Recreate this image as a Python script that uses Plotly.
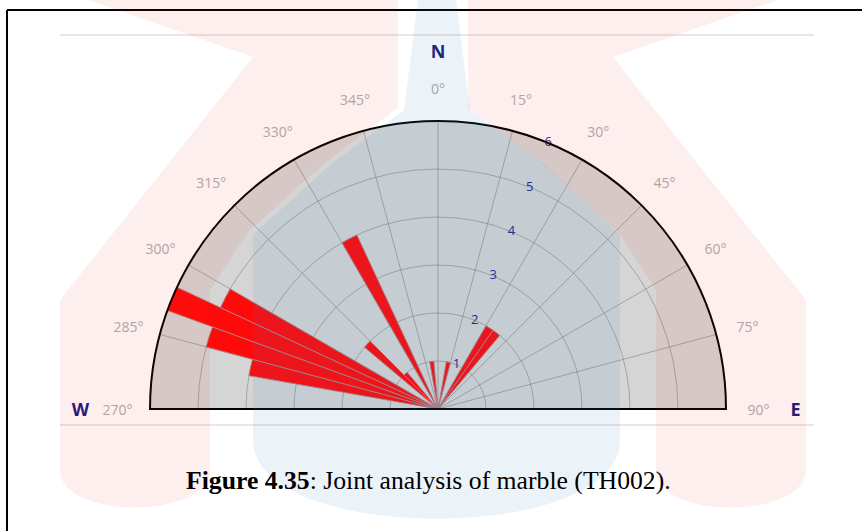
import plotly.graph_objects as go

# ---------------- data ----------------
bin_start = [280, 285, 290, 295, 310, 315, 330, 350, 10, 30, 35]
joint_count = [4, 5, 6, 5, 2, 1, 4, 1, 1, 2, 2]
bin_width = 5
angle_ticks = [270, 285, 300, 315, 330, 345, 0, 15, 30, 45, 60, 75, 90]
angle_labels = ["{}°".format(a) for a in angle_ticks]
radial_ticks = [1, 2, 3, 4, 5, 6]
radial_labels = [str(v) for v in radial_ticks]
radial_max = 6
compass_text = ["N", "W", "E"]
compass_theta = [0, 270, 90]
caption = "<b>Figure 4.35</b>: Joint analysis of marble (TH002)."

W, H = 862, 531
CX, CY, R = 438, 409, 288          # pixel frame of the rose
LABEL_R = 6.677                    # radius (data units) of angle labels
COMPASS_R = 7.45                   # radius (data units) of N / W / E
OUTER_MAX = 7.5                    # range of the transparent label overlay
TEXT_DY = 2                        # small downward nudge of the label overlay


def px(x):
    return x / W


def py(y):
    return 1 - y / H


def path(points):
    s = "M {:.4f},{:.4f}".format(px(points[0][0]), py(points[0][1]))
    for p in points[1:]:
        if len(p) == 6:
            s += " C {:.4f},{:.4f} {:.4f},{:.4f} {:.4f},{:.4f}".format(
                px(p[0]), py(p[1]), px(p[2]), py(p[3]), px(p[4]), py(p[5]))
        else:
            s += " L {:.4f},{:.4f}".format(px(p[0]), py(p[1]))
    return s + " Z"


theta_centers = [(b + bin_width / 2) % 360 for b in bin_start]
tick_positions = [a - 360 if a > 180 else a for a in angle_ticks]

fig = go.Figure()

fig.add_trace(go.Barpolar(
    r=joint_count, theta=theta_centers, width=[bin_width] * len(bin_start),
    marker=dict(color="#ff0a0a", line=dict(color="rgba(175,130,130,0.9)", width=1)),
    hoverinfo="skip", showlegend=False, subplot="polar",
))

# straight base edge of the half rose
fig.add_trace(go.Scatterpolar(
    r=[radial_max, 0, radial_max], theta=[270, 0, 90], mode="lines",
    line=dict(color="black", width=2), cliponaxis=False,
    hoverinfo="skip", showlegend=False, subplot="polar",
))

# radial labels along 22.5°
fig.add_trace(go.Scatterpolar(
    r=radial_ticks, theta=[22.5] * len(radial_ticks), mode="text",
    text=radial_labels,
    textfont=dict(family="Open Sans", size=13, color="#25258c"),
    cliponaxis=False, hoverinfo="skip", showlegend=False, subplot="polar",
))

# angle labels and compass letters on a transparent overlay with the same scale
fig.add_trace(go.Scatterpolar(
    r=[LABEL_R] * len(angle_ticks), theta=angle_ticks, mode="text",
    text=angle_labels,
    textfont=dict(family="Open Sans", size=14, color="#adadad"),
    cliponaxis=False, hoverinfo="skip", showlegend=False, subplot="polar2",
))
fig.add_trace(go.Scatterpolar(
    r=[COMPASS_R] * len(compass_text), theta=compass_theta, mode="text",
    text=["<b>{}</b>".format(t) for t in compass_text],
    textfont=dict(family="Open Sans", size=18, color="#1b1b7d"),
    cliponaxis=False, hoverinfo="skip", showlegend=False, subplot="polar2",
))

grid = "rgba(115,115,115,0.5)"
R2 = R * OUTER_MAX / radial_max
CY2 = CY + TEXT_DY
fig.update_layout(
    width=W, height=H,
    margin=dict(l=0, r=0, t=0, b=0),
    paper_bgcolor="white",
    showlegend=False,
    polar=dict(
        domain=dict(x=[px(CX - R), px(CX + R)], y=[py(CY), py(CY - R)]),
        sector=[0, 180],
        bgcolor="#d5d5d5",
        radialaxis=dict(range=[0, radial_max], tickvals=radial_ticks,
                        showticklabels=False, ticks="", showline=False,
                        gridcolor=grid, gridwidth=1, angle=67.5),
        angularaxis=dict(rotation=90, direction="clockwise",
                         tickmode="array", tickvals=tick_positions,
                         showticklabels=False, ticks="",
                         showline=True, linecolor="black", linewidth=2,
                         gridcolor=grid, gridwidth=1),
    ),
    polar2=dict(
        domain=dict(x=[px(CX - R2), px(CX + R2)], y=[py(CY2), py(CY2 - R2)]),
        sector=[0, 180],
        bgcolor="rgba(0,0,0,0)",
        radialaxis=dict(range=[0, OUTER_MAX], visible=False, showgrid=False),
        angularaxis=dict(rotation=90, direction="clockwise", visible=False,
                         showgrid=False, showline=False),
    ),
)

shapes = []
# frame of the page
shapes.append(dict(type="line", xref="paper", yref="paper", x0=px(7), x1=px(862),
                   y0=py(10), y1=py(10), line=dict(color="black", width=2)))
shapes.append(dict(type="line", xref="paper", yref="paper", x0=px(7), x1=px(7),
                   y0=py(10), y1=py(531), line=dict(color="black", width=2)))
# faint chart container lines
for yy in (35, 425):
    shapes.append(dict(type="line", xref="paper", yref="paper", x0=px(60), x1=px(814),
                       y0=py(yy), y1=py(yy), line=dict(color="#ebe6e6", width=2)))

# watermark (faint logo)
pink = "rgba(235,45,45,0.075)"
blue = "rgba(60,125,185,0.10)"
left_pink = [(88, 0), (398, 0), (398, 108), (326, 162), (248, 232), (210, 290),
             (210, 470), (210, 520, 60, 520, 60, 470), (60, 300), (253, 57)]
right_pink = [(866 - x, y) for (x, y) in
              [(88, 0), (398, 0), (398, 108), (326, 162), (248, 232), (210, 290), (210, 470)]]
right_pink += [(656, 520, 806, 520, 806, 470), (806, 300), (613, 57)]
blue_pts = [(418, 0), (456, 0), (470, 110), (545, 165), (620, 235), (620, 440),
            (620, 545, 253, 545, 253, 440), (253, 235), (330, 165), (404, 110)]
for pts, col in ((left_pink, pink), (right_pink, pink), (blue_pts, blue)):
    shapes.append(dict(type="path", xref="paper", yref="paper", path=path(pts),
                       fillcolor=col, line=dict(width=0), layer="above"))

fig.update_layout(shapes=shapes)

fig.add_annotation(x=px(428), y=py(480), xref="paper", yref="paper",
                   xanchor="center", yanchor="middle",
                   text=caption, showarrow=False,
                   font=dict(family="Liberation Serif", size=25.7, color="black"))

fig.write_html("out.html", post_script="document.body.style.margin='0px';",
               config={"displayModeBar": False})
